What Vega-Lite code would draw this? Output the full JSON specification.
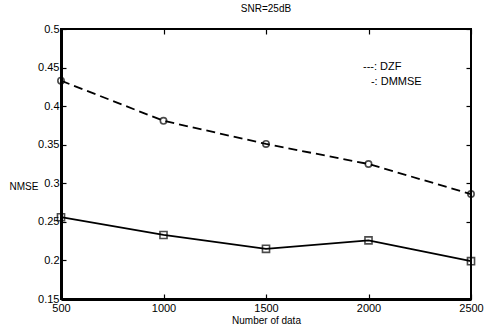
{
  "$schema": "https://vega.github.io/schema/vega-lite/v6.json",
  "width": 410,
  "height": 270,
  "autosize": "none",
  "padding": {"left": 61, "top": 29, "right": 26, "bottom": 29},
  "background": "white",
  "config": {
    "font": "Liberation Sans",
    "view": {"stroke": "black", "strokeWidth": 2},
    "axis": {"grid": false, "domain": false, "tickColor": "black", "tickSize": -5, "tickWidth": 1.2, "labelColor": "black", "labelFont": "Liberation Sans", "labelFontSize": 11, "labelOverlap": false, "labelFlush": false, "titleFont": "Liberation Sans", "titleFontWeight": "normal", "titleFontSize": 10, "titleColor": "black"}
  },
  "title": {"text": "SNR=25dB", "fontSize": 10, "fontWeight": "normal", "font": "Liberation Sans", "color": "black", "offset": 9},
  "datasets": {
    "series": [
      {"n": 500, "nmse": 0.433, "method": "DZF"},
      {"n": 1000, "nmse": 0.381, "method": "DZF"},
      {"n": 1500, "nmse": 0.351, "method": "DZF"},
      {"n": 2000, "nmse": 0.325, "method": "DZF"},
      {"n": 2500, "nmse": 0.286, "method": "DZF"},
      {"n": 500, "nmse": 0.256, "method": "DMMSE"},
      {"n": 1000, "nmse": 0.233, "method": "DMMSE"},
      {"n": 1500, "nmse": 0.215, "method": "DMMSE"},
      {"n": 2000, "nmse": 0.226, "method": "DMMSE"},
      {"n": 2500, "nmse": 0.199, "method": "DMMSE"}
    ],
    "legend": [
      {"n": 1973, "nmse": 0.451, "label": "---: DZF"},
      {"n": 2012, "nmse": 0.431, "label": "-: DMMSE"}
    ]
  },
  "resolve": {"axis": {"x": "independent", "y": "independent"}},
  "layer": [
    {
      "data": {"name": "series"},
      "transform": [{"filter": "datum.method === 'DZF'"}],
      "mark": {"type": "line", "color": "black", "strokeWidth": 1.8, "strokeDash": [9, 5], "clip": false},
      "encoding": {
        "x": {"field": "n", "type": "quantitative", "scale": {"domain": [500, 2500], "nice": false, "zero": false}, "axis": {"orient": "bottom", "domain": true, "domainColor": "black", "domainWidth": 3, "values": [500, 1000, 1500, 2000, 2500], "format": "d", "title": "Number of data", "labelPadding": 8, "titleY": 26, "titleBaseline": "bottom"}},
        "y": {"field": "nmse", "type": "quantitative", "scale": {"domain": [0.15, 0.5], "nice": false, "zero": false}, "axis": {"orient": "left", "domain": true, "domainColor": "black", "domainWidth": 3, "values": [0.15, 0.2, 0.25, 0.3, 0.35, 0.4, 0.45, 0.5], "format": "~g", "labelPadding": 7, "title": "NMSE", "titleAngle": 0, "titleAlign": "left", "titleBaseline": "middle", "titleX": -52, "titleY": 157, "titleFontSize": 10}}
      }
    },
    {
      "data": {"name": "series"},
      "transform": [{"filter": "datum.method === 'DMMSE'"}],
      "mark": {"type": "line", "color": "black", "strokeWidth": 1.8, "clip": false},
      "encoding": {
        "x": {"field": "n", "type": "quantitative", "axis": {"orient": "top", "values": [500, 1000, 1500, 2000, 2500], "labels": false, "title": null}},
        "y": {"field": "nmse", "type": "quantitative", "axis": {"orient": "right", "values": [0.15, 0.2, 0.25, 0.3, 0.35, 0.4, 0.45, 0.5], "labels": false, "title": null}}
      }
    },
    {
      "data": {"name": "series"},
      "transform": [{"filter": "datum.method === 'DZF'"}],
      "mark": {"type": "point", "shape": "circle", "filled": false, "color": "black", "strokeWidth": 1.6, "size": 40, "clip": false},
      "encoding": {
        "x": {"field": "n", "type": "quantitative", "axis": null},
        "y": {"field": "nmse", "type": "quantitative", "axis": null}
      }
    },
    {
      "data": {"name": "series"},
      "transform": [{"filter": "datum.method === 'DMMSE'"}],
      "mark": {"type": "point", "shape": "square", "filled": false, "color": "black", "strokeWidth": 1.6, "size": 50, "clip": false},
      "encoding": {
        "x": {"field": "n", "type": "quantitative", "axis": null},
        "y": {"field": "nmse", "type": "quantitative", "axis": null}
      }
    },
    {
      "data": {"name": "legend"},
      "mark": {"type": "text", "align": "left", "baseline": "middle", "fontSize": 11, "font": "Liberation Sans", "color": "black"},
      "encoding": {
        "x": {"field": "n", "type": "quantitative", "axis": null},
        "y": {"field": "nmse", "type": "quantitative", "axis": null},
        "text": {"field": "label"}
      }
    }
  ]
}
